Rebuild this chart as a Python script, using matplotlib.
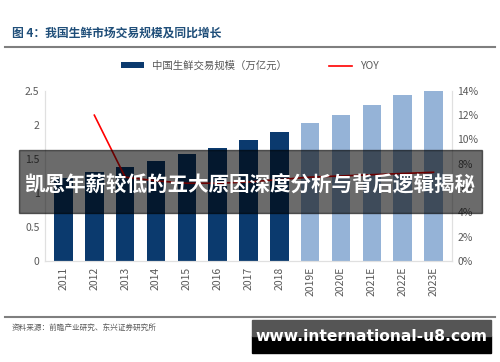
import matplotlib
matplotlib.use('Agg')
import matplotlib.pyplot as plt
import numpy as np

plt.rcParams['font.family'] = ['Noto Sans CJK SC', 'DejaVu Sans']

# 数据
years = ['2011', '2012', '2013', '2014', '2015', '2016', '2017', '2018',
         '2019E', '2020E', '2021E', '2022E', '2023E']
scale = [1.22, 1.31, 1.38, 1.47, 1.57, 1.66, 1.78, 1.90,
         2.03, 2.15, 2.29, 2.44, 2.50]
yoy_years = years[1:]
yoy = [12.0, 6.9, 6.6, 6.4, 6.4, 6.5, 6.7, 6.9, 7.0, 7.1, 7.2, 7.3]
n_actual = 8

dark = '#0B3A6E'
light = '#95B3D7'
colors = [dark] * n_actual + [light] * (len(years) - n_actual)

fig = plt.figure(figsize=(5.0, 3.62), dpi=100)
ax = fig.add_axes([0.09, 0.279, 0.814, 0.47])
x = np.arange(len(years))
bars = ax.bar(x, scale, width=0.6, color=colors, label='中国生鲜交易规模（万亿元）')
ax.set_ylim(0, 2.5)
ax.set_yticks([0, 0.5, 1, 1.5, 2, 2.5])
ax.set_yticklabels(['0', '0.5', '1', '1.5', '2', '2.5'])
ax.set_xlim(-0.6, len(years) - 0.4)
ax.set_xticks(x)
ax.set_xticklabels(years, rotation=90)

ax2 = ax.twinx()
ax2.plot(x[1:], yoy, color='#FF0000', lw=1.2, label='YOY')
ax2.set_ylim(0, 14)
ax2.set_yticks(range(0, 15, 2))
ax2.set_yticklabels([f'{v}%' for v in range(0, 15, 2)])

for a in (ax, ax2):
    for s in a.spines.values():
        s.set_color('#E0E0E0')
        s.set_linewidth(0.8)
    a.spines['top'].set_visible(False)
    a.tick_params(length=0, labelsize=7.5, colors='#595959', pad=4)

# 图例
h1, l1 = ax.get_legend_handles_labels()
h2, l2 = ax2.get_legend_handles_labels()
fig.legend(h1 + h2, l1 + l2, loc='center', bbox_to_anchor=(0.5, 0.818), ncol=2,
           frameon=False, fontsize=7.5, labelcolor='#595959',
           handlelength=2.2, handleheight=0.5, columnspacing=4)

# 标题与来源
fig.text(0.024, 0.908, '图 4：我国生鲜市场交易规模及同比增长', fontsize=8.5,
         fontweight='bold', color='#1F4E79', va='center')
fig.add_artist(plt.Line2D([0.01, 0.99], [0.87, 0.87], color='#7F7F7F', lw=1.5))
fig.add_artist(plt.Line2D([0.01, 0.99], [0.124, 0.124], color='#7F7F7F', lw=1.5))
fig.text(0.024, 0.093, '资料来源：前瞻产业研究、东兴证券研究所', fontsize=5.5,
         style='italic', color='#595959', va='center')

# 覆盖横幅
fig.patches.append(plt.Rectangle((0.038, 0.412), 0.926, 0.174, transform=fig.transFigure,
                                 color='black', alpha=0.58, zorder=5))
fig.text(0.5, 0.49, '凯恩年薪较低的五大原因深度分析与背后逻辑揭秘', fontsize=14.8,
         fontweight='bold', color='white', ha='center', va='center', zorder=6)

fig.patches.append(plt.Rectangle((0.504, 0.025), 0.478, 0.048, transform=fig.transFigure,
                                 color='black', zorder=5))
fig.patches.append(plt.Rectangle((0.504, 0.073), 0.478, 0.044, transform=fig.transFigure,
                                 color='#555555', zorder=5))
fig.text(0.742, 0.07, 'www.international-u8.com', fontsize=11.2, fontweight='bold',
         color='white', ha='center', va='center', family=['DejaVu Sans'], zorder=6)

fig.savefig('out.png', dpi=100)
